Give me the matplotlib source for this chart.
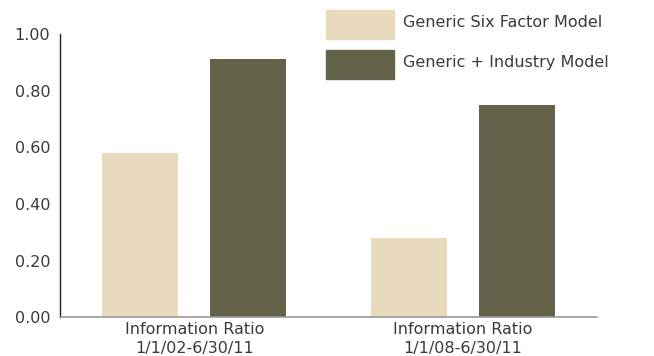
import matplotlib
matplotlib.use("Agg")
import matplotlib.pyplot as plt
from matplotlib.patches import Rectangle
import numpy as np

# Information ratio by model and period
categories = ["Information Ratio\n1/1/02-6/30/11", "Information Ratio\n1/1/08-6/30/11"]
series_names = ["Generic Six Factor Model", "Generic + Industry Model"]
six_factor = [0.58, 0.28]
industry = [0.91, 0.75]
y_ticks = [0.0, 0.2, 0.4, 0.6, 0.8, 1.0]

light = "#E8DABD"
dark = "#646249"
text_color = "#3a3a3a"
fs = 11.5

plt.rcParams["font.family"] = ["DejaVu Sans"]

fig = plt.figure(figsize=(6.54, 3.56), dpi=100)
ax = fig.add_axes([60 / 654, 1 - 317.3 / 356, (597 - 60) / 654, (317.3 - 34) / 356])

x = np.arange(len(categories))
width = 0.283
offset = 0.201
ax.bar(x - offset, six_factor, width, color=light, label=series_names[0])
ax.bar(x + offset, industry, width, color=dark, label=series_names[1])

ax.set_xlim(-0.5, 1.5)
ax.set_ylim(0, 1.0)
ax.set_yticks(y_ticks)
ax.set_yticklabels([f"{v:.2f}" for v in y_ticks])
ax.set_xticks(x)
ax.set_xticklabels(categories, linespacing=1.3)

ax.tick_params(axis="y", length=0, pad=7, labelsize=fs, labelcolor=text_color)
ax.tick_params(axis="x", length=0, pad=3.5, labelsize=fs, labelcolor=text_color)

for side in ("top", "right"):
    ax.spines[side].set_visible(False)
ax.spines["left"].set_color("#222222")
ax.spines["left"].set_linewidth(1.0)
ax.spines["bottom"].set_color("#999999")
ax.spines["bottom"].set_linewidth(1.2)

# Legend drawn in figure pixels, top right
W, H = 654, 356
legend_rows = [(series_names[0], light, 10, 38.7), (series_names[1], dark, 50, 78.7)]
for name, color, y0, y1 in legend_rows:
    fig.patches.append(Rectangle((326 / W, 1 - y1 / H), (394 - 326) / W, (y1 - y0) / H,
                                 transform=fig.transFigure, color=color))
    fig.text(403 / W, 1 - ((y0 + y1) / 2 - 1.5) / H, name, fontsize=fs,
             color=text_color, va="center", ha="left")

fig.savefig("out.png", dpi=100)
